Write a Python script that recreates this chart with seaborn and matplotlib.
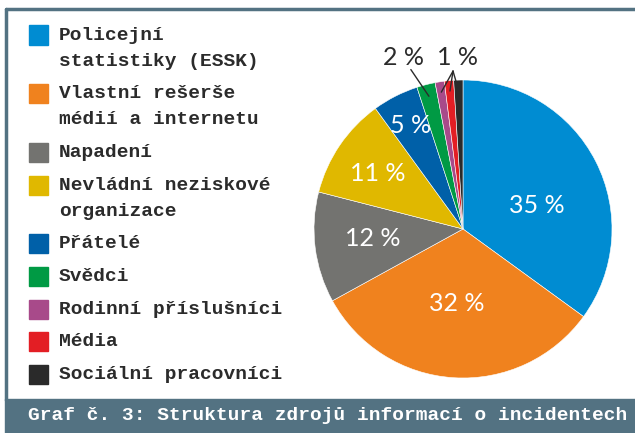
import numpy as np
import matplotlib
matplotlib.use("Agg")
import matplotlib.pyplot as plt
from matplotlib.patches import Rectangle
from matplotlib.lines import Line2D
import seaborn as sns

# --- Data ---
sources = [
    "Policejní\nstatistiky (ESSK)",
    "Vlastní rešerše\nmédií a internetu",
    "Napadení",
    "Nevládní neziskové\norganizace",
    "Přátelé",
    "Svědci",
    "Rodinní příslušníci",
    "Média",
    "Sociální pracovníci",
]
shares = [35, 32, 12, 11, 5, 2, 1, 1, 1]
colors = ["#008cd2", "#f0821e", "#737370", "#e0b800", "#0060a8",
          "#009a44", "#a84a8a", "#e31e24", "#2a2a2a"]
caption = "Graf č. 3: Struktura zdrojů informací o incidentech"

# --- Style ---
sns.set_theme(style="white")
plt.rcParams['font.family'] = ['Liberation Mono', 'DejaVu Sans Mono']
palette = sns.color_palette(colors)

W, H = 635, 433
fig = plt.figure(figsize=(W / 100, H / 100), dpi=100)
fig.patch.set_facecolor("white")

def fx(px):
    return px / W

def fy(py):
    return 1 - py / H

slate = "#537282"
ink = "#2b2b2b"

# frame: top + left rule and caption band
fig.add_artist(Line2D([fx(6), 1], [fy(8.5), fy(8.5)], color=slate, lw=2.5))
fig.add_artist(Line2D([fx(6), fx(6)], [fy(8.5), fy(400)], color=slate, lw=2.5))
fig.add_artist(Rectangle((fx(5), 0), 1 - fx(5), 34 / H, color=slate,
                         transform=fig.transFigure, zorder=1))
fig.text(fx(28), fy(416), caption, color="white", fontsize=14,
         fontweight="bold", va="center", ha="left")

# --- Legend (drawn by hand, square aligned with first line) ---
y = 35
for label, col in zip(sources, palette):
    fig.add_artist(Rectangle((fx(29), fy(y + 9.5)), 19 / W, 19 / H,
                             color=col, transform=fig.transFigure))
    lines = label.split("\n")
    for i, line in enumerate(lines):
        fig.text(fx(59), fy(y + 26 * i), line, color=ink, fontsize=14,
                 fontweight="bold", va="center", ha="left")
    y += 32.7 + 26 * (len(lines) - 1)

# --- Pie ---
cx, cy, r = 463, 229, 149
ax = fig.add_axes([fx(cx - r), (H - cy - r) / H, 2 * r / W, 2 * r / H])
wedges, _ = ax.pie(shares, colors=palette, startangle=90, counterclock=False,
                   radius=1, wedgeprops=dict(linewidth=0.4, edgecolor="white"))
ax.set_xlim(-1, 1)
ax.set_ylim(-1, 1)
ax.set_aspect("equal")
ax.axis("off")

label_font = dict(family=["Lato", "DejaVu Sans"], fontsize=18)

# inside labels for the big slices
inner_dist = [0.52, 0.50, 0.61, 0.68, 0.78]
angle_shift = [-9, -1, -1, 1, 0]
for w, v, d, s in zip(wedges[:5], shares[:5], inner_dist, angle_shift):
    a = np.deg2rad((w.theta1 + w.theta2) / 2 + s)
    ax.text(d * np.cos(a), d * np.sin(a), f"{v} %", color="white",
            ha="center", va="center", **label_font)

# outside labels with leader lines for the small slices
def tip(w, d=0.92):
    a = np.deg2rad((w.theta1 + w.theta2) / 2)
    return d * np.cos(a), d * np.sin(a)

ax.text(-0.40, 1.15, f"{shares[5]} %", color=ink, ha="center", va="center",
        **label_font)
gx, gy = tip(wedges[5])
ax.plot([-0.35, gx], [1.07, gy], color=ink, lw=1, clip_on=False)

ax.text(-0.04, 1.15, f"{shares[6]} %", color=ink, ha="center", va="center",
        **label_font)
for w in wedges[6:]:
    tx, ty = tip(w, 0.93)
    ax.plot([-0.067, tx], [1.06, ty], color=ink, lw=1, clip_on=False)

fig.savefig("out.png", dpi=100, facecolor=fig.get_facecolor())
